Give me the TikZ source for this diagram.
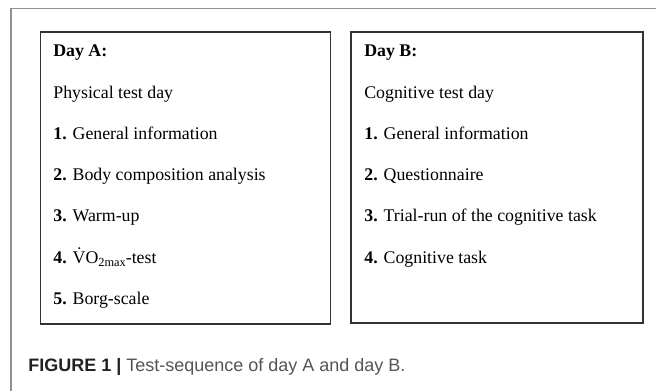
\documentclass[tikz,border=0pt]{standalone}
\usepackage{fontspec}
\setmainfont{Liberation Serif}
\newfontfamily\capfont{Liberation Sans}

\newlength{\du}
\setlength{\du}{0.5669pt}

\definecolor{framegray}{rgb}{0.560000, 0.560000, 0.560000}
\definecolor{boxgray}{rgb}{0.200000, 0.200000, 0.200000}
\definecolor{captext}{rgb}{0.330000, 0.330000, 0.330000}
\definecolor{caphead}{rgb}{0.130000, 0.130000, 0.130000}

\tikzset{
  daybox/.style={draw=boxgray, line width=1.600000\du, inner sep=0pt, anchor=north west},
  dayline/.style={anchor=base west, inner sep=0pt, font=\fontsize{10.1pt}{12pt}\selectfont},
  figcaption/.style={anchor=base west, inner sep=0pt, text=captext, font=\capfont\fontsize{10.2pt}{12pt}\selectfont},
}

\begin{document}
\begin{tikzpicture}
\pgftransformxscale{1.000000}
\pgftransformyscale{-1.000000}
\useasboundingbox (0\du,0\du) rectangle (656\du,391\du);
% frame
\draw[framegray, line width=1.300000\du] (11.000000\du,391.000000\du)--(11.000000\du,8.700000\du)--(656.000000\du,8.700000\du);
% day A
\node[daybox, minimum width=290.000000\du, minimum height=292.000000\du] (boxA) at (39.500000\du,31.000000\du){};
\node[dayline] (dayA) at (53.000000\du,56.700000\du){\textbf{Day A:}};
\node[dayline] (physical) at (53.000000\du,98.000000\du){Physical test day};
\node[dayline] (stepA1) at (53.000000\du,139.300000\du){\textbf{1.} General information};
\node[dayline] (stepA2) at (53.000000\du,180.600000\du){\textbf{2.} Body composition analysis};
\node[dayline] (stepA3) at (53.000000\du,221.900000\du){\textbf{3.} Warm-up};
\node[dayline] (stepA4) at (53.000000\du,263.200000\du){\textbf{4.} \.{V}O{\raisebox{-0.35ex}{\fontsize{7pt}{8pt}\selectfont 2max}}-test};
\node[dayline] (stepA5) at (53.000000\du,304.500000\du){\textbf{5.} Borg-scale};
% day B
\node[daybox, minimum width=292.000000\du, minimum height=291.000000\du] (boxB) at (350.000000\du,31.000000\du){};
\node[dayline] (dayB) at (364.000000\du,56.700000\du){\textbf{Day B:}};
\node[dayline] (cognitive) at (364.000000\du,98.000000\du){Cognitive test day};
\node[dayline] (stepB1) at (364.000000\du,139.300000\du){\textbf{1.} General information};
\node[dayline] (stepB2) at (364.000000\du,180.600000\du){\textbf{2.} Questionnaire};
\node[dayline] (stepB3) at (364.000000\du,221.900000\du){\textbf{3.} Trial-run of the cognitive task};
\node[dayline] (stepB4) at (364.000000\du,263.200000\du){\textbf{4.} Cognitive task};
% caption
\node[figcaption] (caption) at (28.000000\du,371.000000\du){{\bfseries\color{caphead}FIGURE 1 |} Test-sequence of day A and day B.};
\end{tikzpicture}
\end{document}
